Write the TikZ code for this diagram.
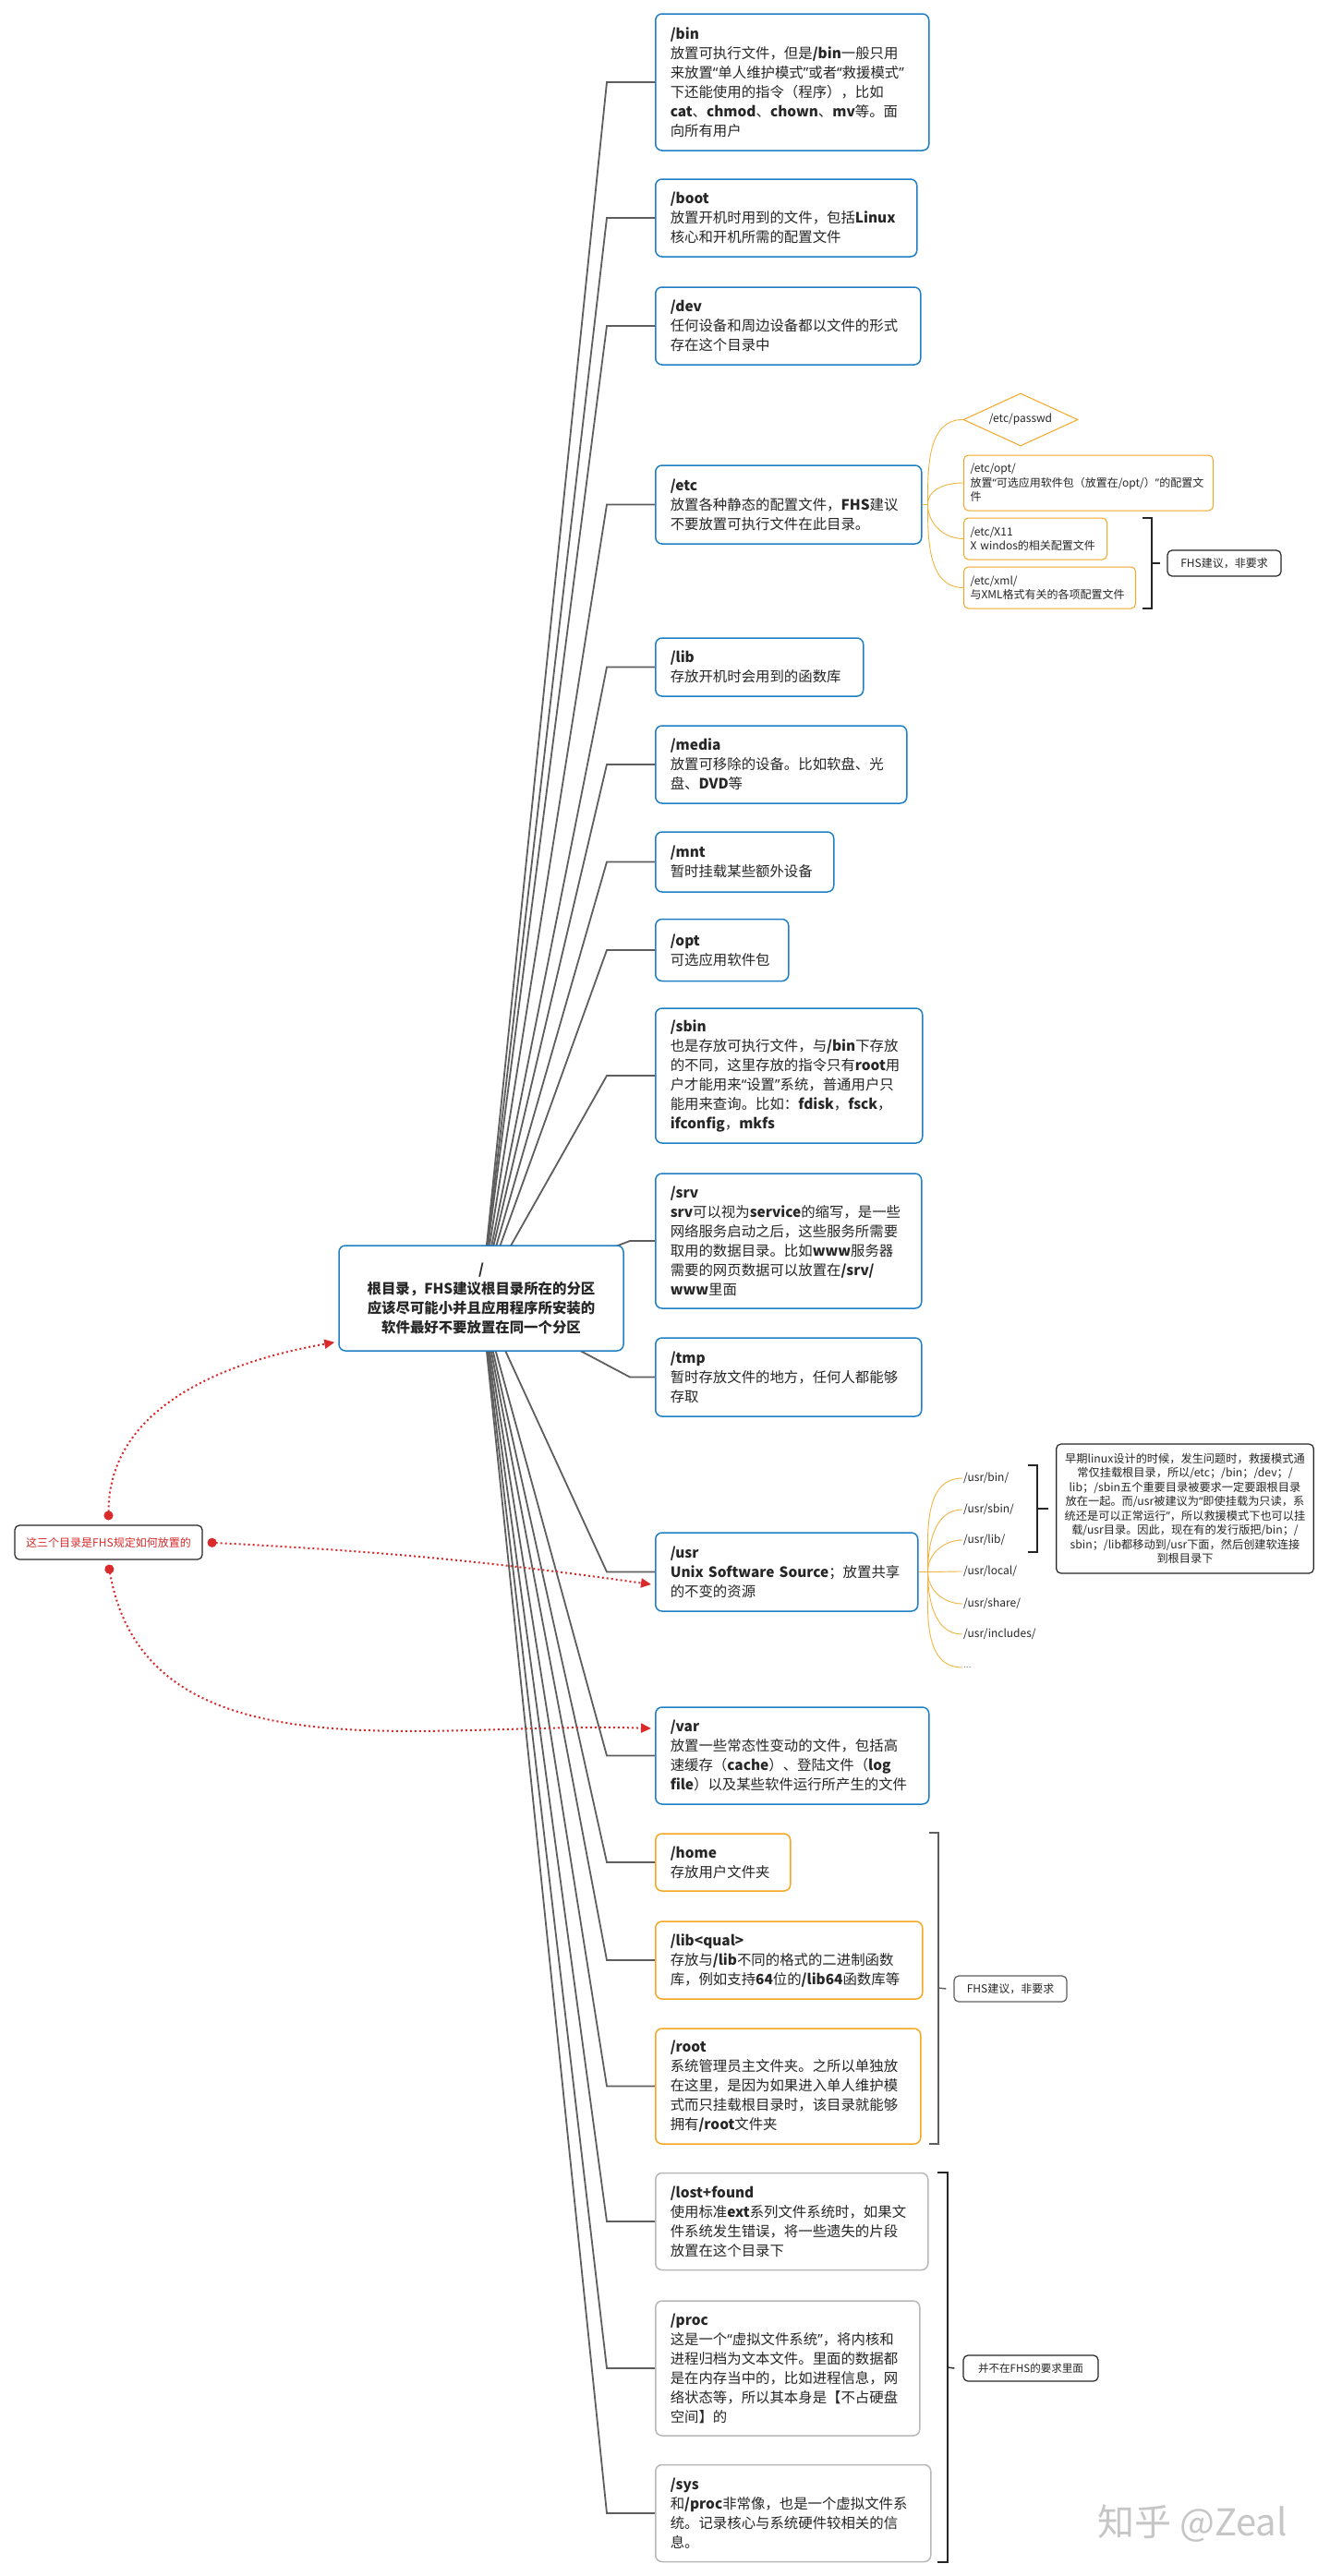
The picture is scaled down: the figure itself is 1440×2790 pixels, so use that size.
\documentclass[tikz,border=0pt]{standalone}
\usepackage{fontspec}
\setmainfont{Noto Sans CJK SC}
\newfontfamily\quotefont{Noto Sans}
\usetikzlibrary{arrows.meta,shapes.geometric,backgrounds}

\definecolor{blueline}{HTML}{1F7FC5}
\definecolor{orangeline}{HTML}{F5A623}
\definecolor{grayline}{HTML}{B8B8B8}
\definecolor{linegray}{HTML}{5E5E5E}
\definecolor{twigorange}{HTML}{F2B441}
\definecolor{ink}{HTML}{262626}
\definecolor{hintred}{HTML}{D92B2B}

\newcommand\boxfont{\fontsize{15.4pt}{21pt}\selectfont}
\newcommand\leaffont{\fontsize{12pt}{15.5pt}\selectfont}
\newcommand\qo{{\quotefont “}}
\newcommand\qc{{\quotefont ”}}

\tikzset{
  dirbox/.style={draw=blueline, line width=1.5pt, rounded corners=7pt, fill=white,
    anchor=west, align=left, inner xsep=16pt, inner ysep=6pt, font=\boxfont},
  fhsbox/.style={dirbox, draw=orangeline},
  extbox/.style={dirbox, draw=grayline},
  leafbox/.style={draw=orangeline, line width=1pt, rounded corners=5pt, anchor=west,
    align=left, inner xsep=7pt, inner ysep=4pt, font=\leaffont},
  leaf/.style={anchor=west, inner sep=1pt, font=\leaffont},
  notebox/.style={draw=ink, line width=1.2pt, rounded corners=5pt, font=\leaffont},
  branch/.style={draw=linegray, line width=1.8pt},
  twig/.style={draw=twigorange, line width=0.9pt},
  brace/.style={draw=ink, line width=1.4pt},
  hint/.style={draw=hintred, line width=2pt, dash pattern=on 2pt off 3pt,
    {Circle[length=10pt]}-{Triangle[length=11pt,width=10pt]}}
}

\begin{document}
\begin{tikzpicture}[x=1pt, y=-1pt, every node/.style={text=ink}]
\useasboundingbox (0,0) rectangle (1440,2790);

% root
\node[draw=blueline, line width=1.5pt, rounded corners=7pt, fill=white, align=center,
      minimum width=308pt, minimum height=114pt, font=\bfseries\boxfont] (fhsroot) at (521,1406)
  {/\\根目录，FHS建议根目录所在的分区\\应该尽可能小并且应用程序所安装的\\软件最好不要放置在同一个分区};

% directories required by FHS
\node[dirbox, text width=264pt, minimum height=148pt] (bin) at (709,89)
  {\textbf{/bin}\\放置可执行文件，但是\textbf{/bin}一般只用\\来放置\qo 单人维护模式\qc 或者\qo 救援模式\qc\\下还能使用的指令（程序），比如\\\textbf{cat}、\textbf{chmod}、\textbf{chown}、\textbf{mv}等。面\\向所有用户};
\node[dirbox, text width=251pt, minimum height=84pt] (boot) at (709,236)
  {\textbf{/boot}\\放置开机时用到的文件，包括\textbf{Linux}\\核心和开机所需的配置文件};
\node[dirbox, text width=255pt, minimum height=84pt] (dev) at (709,353)
  {\textbf{/dev}\\任何设备和周边设备都以文件的形式\\存在这个目录中};
\node[dirbox, text width=256pt, minimum height=85pt] (etc) at (709,546.5)
  {\textbf{/etc}\\放置各种静态的配置文件，\textbf{FHS}建议\\不要放置可执行文件在此目录。};
\node[dirbox, text width=193pt, minimum height=63pt] (lib) at (709,722.5)
  {\textbf{/lib}\\存放开机时会用到的函数库};
\node[dirbox, text width=240pt, minimum height=84pt] (media) at (709,828)
  {\textbf{/media}\\放置可移除的设备。比如软盘、光\\盘、\textbf{DVD}等};
\node[dirbox, text width=161pt, minimum height=65pt] (mnt) at (709,933.5)
  {\textbf{/mnt}\\暂时挂载某些额外设备};
\node[dirbox, text width=112pt, minimum height=67pt] (opt) at (709,1029)
  {\textbf{/opt}\\可选应用软件包};
\node[dirbox, text width=257pt, minimum height=146pt] (sbin) at (709,1165)
  {\textbf{/sbin}\\也是存放可执行文件，与\textbf{/bin}下存放\\的不同，这里存放的指令只有\textbf{root}用\\户才能用来\qo 设置\qc 系统，普通用户只\\能用来查询。比如：\textbf{fdisk}，\textbf{fsck}，\\\textbf{ifconfig}，\textbf{mkfs}};
\node[dirbox, text width=256pt, minimum height=146pt] (srv) at (709,1344)
  {\textbf{/srv}\\\textbf{srv}可以视为\textbf{service}的缩写，是一些\\网络服务启动之后，这些服务所需要\\取用的数据目录。比如\textbf{www}服务器\\需要的网页数据可以放置在\textbf{/srv/}\\\textbf{www}里面};
\node[dirbox, text width=256pt, minimum height=85pt] (tmp) at (709,1491.5)
  {\textbf{/tmp}\\暂时存放文件的地方，任何人都能够\\存取};
\node[dirbox, text width=252pt, minimum height=85pt] (usr) at (709,1702.5)
  {\textbf{/usr}\\\textbf{Unix~Software~Source}；放置共享\\的不变的资源};
\node[dirbox, text width=264pt, minimum height=105pt] (var) at (709,1901.5)
  {\textbf{/var}\\放置一些常态性变动的文件，包括高\\速缓存（\textbf{cache}）、登陆文件（\textbf{log}\\\textbf{file}）以及某些软件运行所产生的文件};

% directories only suggested by FHS
\node[fhsbox, text width=114pt, minimum height=62pt] (home) at (709,2017)
  {\textbf{/home}\\存放用户文件夹};
\node[fhsbox, text width=257pt, minimum height=84pt] (libq) at (709,2123)
  {\textbf{/lib<qual>}\\存放与\textbf{/lib}不同的格式的二进制函数\\库，例如支持\textbf{64}位的\textbf{/lib64}函数库等};
\node[fhsbox, text width=255pt, minimum height=125pt] (rootdir) at (709,2259.5)
  {\textbf{/root}\\系统管理员主文件夹。之所以单独放\\在这里，是因为如果进入单人维护模\\式而只挂载根目录时，该目录就能够\\拥有\textbf{/root}文件夹};

% directories outside FHS
\node[extbox, text width=263pt, minimum height=105pt] (lost) at (709,2406)
  {\textbf{/lost+found}\\使用标准\textbf{ext}系列文件系统时，如果文\\件系统发生错误，将一些遗失的片段\\放置在这个目录下};
\node[extbox, text width=254pt, minimum height=146pt] (proc) at (709,2565)
  {\textbf{/proc}\\这是一个\qo 虚拟文件系统\qc ，将内核和\\进程归档为文本文件。里面的数据都\\是在内存当中的，比如进程信息，网\\络状态等，所以其本身是【不占硬盘\\空间】的};
\node[extbox, text width=266pt, minimum height=105pt] (sys) at (709,2722)
  {\textbf{/sys}\\和\textbf{/proc}非常像，也是一个虚拟文件系\\统。记录核心与系统硬件较相关的信\\息。};

\begin{scope}[on background layer]
  \fill[white] (0,0) rectangle (1440,2790);
  \foreach \b/\e in {bin/52,boot/52,dev/52,etc/52,lib/52,media/52,mnt/52,opt/52,sbin/52,
                     srv/27,tmp/27,usr/52,var/52,home/52,libq/52,rootdir/52,lost/52,proc/52,sys/52}
    \draw[branch] (fhsroot.center) -- ([xshift=-\e pt]\b.west) -- (\b.west);
\end{scope}

% /etc children
\node[diamond, draw=orangeline, line width=1pt, aspect=2.2, inner sep=0pt,
      minimum width=124pt, minimum height=57pt, font=\leaffont] (passwd) at (1105,454.5) {/etc/passwd};
\node[leafbox, text width=256pt, minimum height=60pt] (etcopt) at (1043,523)
  {/etc/opt/\\放置\qo 可选应用软件包（放置在/opt/）\qc 的配置文\\件};
\node[leafbox, text width=141pt, minimum height=45pt] (x11) at (1043,583.5)
  {/etc/X11\\X~windos的相关配置文件};
\node[leafbox, text width=172pt, minimum height=45pt] (xml) at (1043,636.5)
  {/etc/xml/\\与XML格式有关的各项配置文件};
\coordinate (etcj) at ([xshift=6pt]etc.east);
\draw[twig] (etc.east) -- (etcj);
\foreach \c/\a in {passwd/90,etcopt/90,x11/-90,xml/-90}
  \draw[twig] (etcj) to[out=\a,in=180] (\c.west);

\node[notebox, minimum width=123pt, minimum height=28pt] (etcfhs) at (1325.5,610) {FHS建议，非要求};
\draw[brace] (1237,561) -- (1247,561) -- (1247,659) -- (1237,659);
\coordinate (etcbr) at (1247,610);
\draw[brace] (etcbr) -- ([xshift=-7pt]etcfhs.west);

% /usr children
\node[leaf] (ubin)   at (1042,1601) {/usr/bin/};
\node[leaf] (usbin)  at (1042,1635) {/usr/sbin/};
\node[leaf] (ulib)   at (1042,1668) {/usr/lib/};
\node[leaf] (ulocal) at (1042,1702) {/usr/local/};
\node[leaf] (ushare) at (1042,1737) {/usr/share/};
\node[leaf] (uincl)  at (1042,1770) {/usr/includes/};
\node[leaf, font=\fontsize{10pt}{10pt}\selectfont, text=gray] (udots) at (1042,1806) {...};
\coordinate (usrj) at ([xshift=10pt]usr.east);
\draw[twig] (usr.east) -- (usrj);
\foreach \c/\a in {ubin/90,usbin/90,ulib/90,ulocal/0,ushare/-90,uincl/-90,udots/-90}
  \draw[twig] (usrj) to[out=\a,in=180] (\c.west);

\node[notebox, align=center, text width=272pt, minimum height=140pt,
      font=\fontsize{12.2pt}{15.5pt}\selectfont] (unote) at (1283,1634)
  {早期linux设计的时候，发生问题时，救援模式通\\常仅挂载根目录，所以/etc；/bin；/dev；/\\lib；/sbin五个重要目录被要求一定要跟根目录\\放在一起。而/usr被建议为\qo 即使挂载为只读，系\\统还是可以正常运行\qc ，所以救援模式下也可以挂\\载/usr目录。因此，现在有的发行版把/bin；/\\sbin；/lib都移动到/usr下面，然后创建软连接\\到根目录下};
\draw[brace] (1113,1587) -- (1123,1587) -- (1123,1681) -- (1113,1681);
\coordinate (usrbr) at (1123,1634);
\draw[brace] (usrbr) -- ([xshift=-8pt]unote.west);

% right-hand groups
\node[notebox, draw=linegray, minimum width=122pt, minimum height=28pt] (homefhs) at (1094,2154) {FHS建议，非要求};
\draw[brace, draw=linegray] (1006,1985) -- (1016,1985) -- (1016,2322) -- (1006,2322);
\coordinate (homebr) at (1016,2153);
\draw[brace, draw=linegray] (homebr) -- ([xshift=-8pt]homefhs.west);

\node[notebox, minimum width=146pt, minimum height=28pt,
      font=\fontsize{11.5pt}{13pt}\selectfont] (extfhs) at (1116,2565) {并不在FHS的要求里面};
\draw[brace] (1015,2353) -- (1026,2353) -- (1026,2775) -- (1015,2775);
\coordinate (extbr) at (1026,2564);
\draw[brace] (extbr) -- ([xshift=-9pt]extfhs.west);

% red remark
\node[notebox, text=hintred, minimum width=203pt, minimum height=37pt] (note) at (117.5,1670.5)
  {这三个目录是FHS规定如何放置的};
\draw[hint] ([yshift=5pt]note.north) to[out=90,in=190] ([xshift=-4pt,yshift=10pt]fhsroot.south west);
\draw[hint] ([xshift=5pt]note.east) to[out=-3,in=172] ([xshift=-4pt,yshift=-13.5pt]usr.west);
\draw[hint] ([yshift=-5pt]note.south) to[out=-80,in=178] ([xshift=-4pt,yshift=29.5pt]var.west);

\node[font=\fontsize{40pt}{40pt}\selectfont, text=gray!45] (mark) at (1291,2733) {知乎 @Zeal};
\end{tikzpicture}
\end{document}
